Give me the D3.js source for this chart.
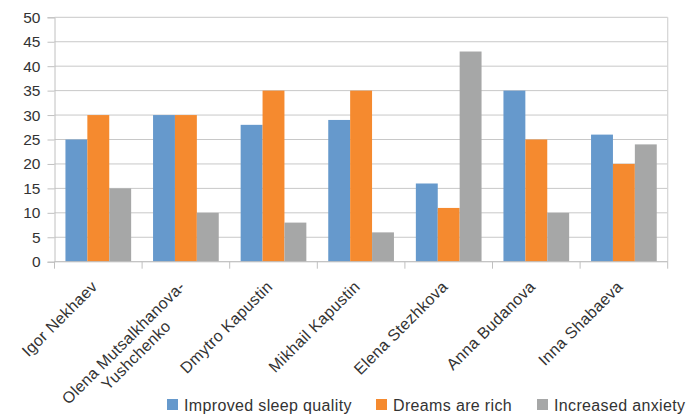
<!DOCTYPE html>
<html>
<head>
<meta charset="utf-8">
<script src="https://cdn.jsdelivr.net/npm/d3@7"></script>
<style>
  html, body { margin: 0; padding: 0; background: #ffffff; }
  svg { display: block; font-family: "Liberation Sans", Arial, sans-serif; }
</style>
</head>
<body>
<svg id="chart" width="689" height="414"></svg>
<script>
// Survey respondents and their scores per effect
const people = [
  ["Igor Nekhaev"],
  ["Olena Mutsalkhanova-", "Yushchenko"],
  ["Dmytro Kapustin"],
  ["Mikhail Kapustin"],
  ["Elena Stezhkova"],
  ["Anna Budanova"],
  ["Inna Shabaeva"]
];
const seriesNames = ["Improved sleep quality", "Dreams are rich", "Increased anxiety"];
const sleepQuality = [25, 30, 28, 29, 16, 35, 26];
const dreamsRich   = [30, 30, 35, 35, 11, 25, 20];
const anxiety      = [15, 10, 8, 6, 43, 10, 24];
const yTicks = [0, 5, 10, 15, 20, 25, 30, 35, 40, 45, 50];
const colors = ["#6699cc", "#f58a2f", "#a6a7a7"];

const seriesValues = [sleepQuality, dreamsRich, anxiety];
const svg = d3.select("#chart");
const plotLeft = 54.5, plotRight = 667.7, plotTop = 17.3, plotBottom = 261.7;

const x = d3.scaleBand().domain(d3.range(people.length)).range([plotLeft, plotRight])
  .paddingInner(0.25).paddingOuter(0.125);
const xSub = d3.scaleBand().domain(d3.range(seriesNames.length)).range([0, x.bandwidth()]);
const y = d3.scaleLinear().domain([0, 50]).range([plotBottom, plotTop]);

// Horizontal gridlines
svg.append("g").selectAll("line").data(yTicks).join("line")
  .attr("x1", plotLeft).attr("x2", plotRight)
  .attr("y1", d => y(d)).attr("y2", d => y(d))
  .attr("stroke", "#c8c8c8").attr("stroke-width", 1);

// Right frame line
svg.append("line").attr("x1", plotRight).attr("x2", plotRight).attr("y1", plotTop).attr("y2", plotBottom)
  .attr("stroke", "#d4d4d4").attr("stroke-width", 1.2);

// Bars
const groups = svg.append("g").selectAll("g").data(people).join("g")
  .attr("transform", (d, i) => `translate(${x(i)},0)`);
groups.selectAll("rect").data((d, i) => seriesValues.map((s, k) => ({ k, v: s[i] }))).join("rect")
  .attr("x", d => xSub(d.k)).attr("width", xSub.bandwidth())
  .attr("y", d => y(d.v)).attr("height", d => y(0) - y(d.v))
  .attr("fill", d => colors[d.k]);

// Y axis
const yAxis = svg.append("g").attr("transform", `translate(${plotLeft},0)`)
  .call(d3.axisLeft(y).tickValues(yTicks).tickSize(7).tickPadding(7));
yAxis.select(".domain").attr("stroke", "#c0c0c0");
yAxis.selectAll(".tick line").attr("stroke", "#c0c0c0");
yAxis.selectAll(".tick text").attr("font-size", 15.5).attr("fill", "#333333")
  .attr("font-family", "Liberation Sans, Arial, sans-serif");

// X axis baseline with category boundary ticks
svg.append("line").attr("x1", plotLeft).attr("x2", plotRight).attr("y1", plotBottom).attr("y2", plotBottom)
  .attr("stroke", "#c0c0c0");
const step = x.step();
svg.append("g").selectAll("line").data(d3.range(people.length + 1)).join("line")
  .attr("x1", i => plotLeft + i * step).attr("x2", i => plotLeft + i * step)
  .attr("y1", plotBottom).attr("y2", plotBottom + 7)
  .attr("stroke", "#c0c0c0");

// Rotated category labels
const labels = svg.append("g").selectAll("g").data(people).join("g")
  .attr("transform", (d, i) => `translate(${x(i) + x.bandwidth() / 2 - 3},${plotBottom + 23}) rotate(-45)`);
labels.each(function (lines) {
  const g = d3.select(this);
  const t = g.append("text").attr("font-size", 16).attr("letter-spacing", 0.3).attr("fill", "#333333")
    .attr("text-anchor", "end").attr("dominant-baseline", "middle");
  t.text(lines[0]);
  if (lines.length > 1) {
    const w = t.node().getComputedTextLength();
    g.append("text").attr("font-size", 16).attr("letter-spacing", 0.3).attr("fill", "#333333")
      .attr("text-anchor", "middle").attr("dominant-baseline", "middle")
      .attr("x", -w / 2).attr("y", 18).text(lines[1]);
  }
});

// Legend
const legendX = [167, 376, 537];
const legend = svg.append("g").selectAll("g").data(seriesNames).join("g")
  .attr("transform", (d, i) => `translate(${legendX[i]},399)`);
legend.append("rect").attr("width", 11).attr("height", 11).attr("fill", (d, i) => colors[i]);
legend.append("text").attr("x", 17).attr("y", 11.5)
  .attr("font-size", 16).attr("letter-spacing", 0.35).attr("fill", "#333333").text(d => d);
</script>
</body>
</html>
